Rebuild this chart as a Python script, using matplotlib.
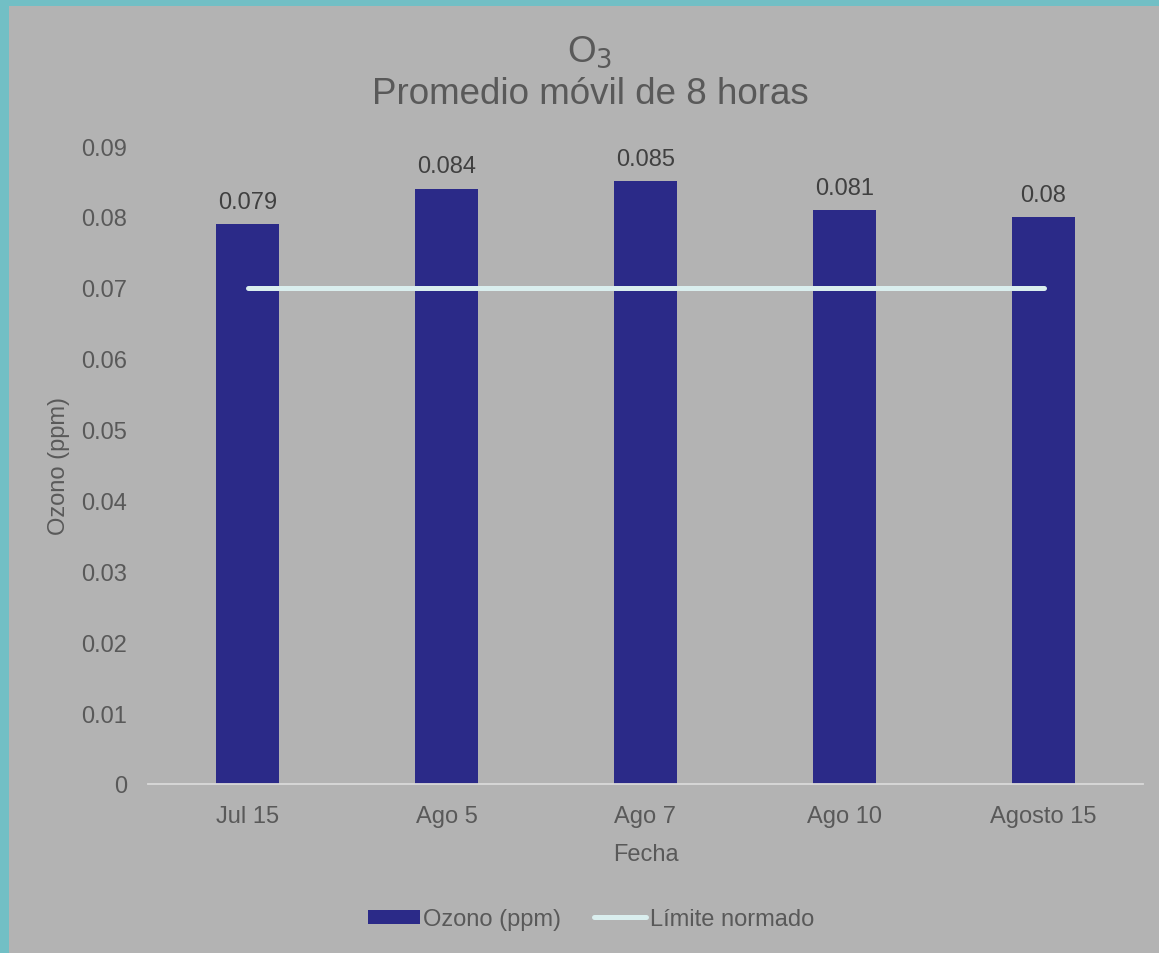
import matplotlib.pyplot as plt
from matplotlib.patches import Rectangle
from matplotlib.lines import Line2D

fechas = ["Jul 15", "Ago 5", "Ago 7", "Ago 10", "Agosto 15"]
ozono = [0.079, 0.084, 0.085, 0.081, 0.08]
limite = [0.07, 0.07, 0.07, 0.07, 0.07]
etiquetas = ["0.079", "0.084", "0.085", "0.081", "0.08"]
y_ticks = [0, 0.01, 0.02, 0.03, 0.04, 0.05, 0.06, 0.07, 0.08, 0.09]
y_ticklabels = ["0", "0.01", "0.02", "0.03", "0.04", "0.05", "0.06", "0.07", "0.08", "0.09"]

plt.rcParams["font.family"] = ["Liberation Sans", "DejaVu Sans"]

W, H = 1159, 954
bg = "#b3b3b3"
teal = "#72bfc5"
text_col = "#595959"
bar_col = "#2b2a88"
line_col = "#daeeee"
fs = 17

fig = plt.figure(figsize=(W / 100, H / 100), dpi=100)
fig.patch.set_facecolor(bg)
# teal frame on the top and left edges
fig.patches.append(Rectangle((0, 0), 9 / W, 1, transform=fig.transFigure,
                             facecolor=teal, edgecolor="none"))
fig.patches.append(Rectangle((0, (H - 7) / H), 1, 7 / H, transform=fig.transFigure,
                             facecolor=teal, edgecolor="none"))

ax = fig.add_axes([148 / W, 169 / H, (1143 - 148) / W, (785 - 147) / H])
ax.set_facecolor("none")

x = list(range(len(fechas)))
ax.bar(x, ozono, width=0.32, color=bar_col, label="Ozono (ppm)", zorder=2)
ax.plot(x, limite, color=line_col, lw=3.6, solid_capstyle="round",
        label="Límite normado", zorder=3)

for xi, v, lab in zip(x, ozono, etiquetas):
    ax.annotate(lab, (xi, v), xytext=(0, 8), textcoords="offset points",
                ha="center", va="bottom", fontsize=fs, color="#404040")

ax.set_xlim(-0.5, len(fechas) - 0.5)
ax.set_ylim(0, 0.09)
ax.set_yticks(y_ticks)
ax.set_yticklabels(y_ticklabels)
ax.set_xticks(x)
ax.set_xticklabels(fechas)
ax.tick_params(axis="both", length=0, labelsize=fs, colors=text_col)
ax.tick_params(axis="y", pad=15)
ax.tick_params(axis="x", pad=15)

for side in ["top", "right", "left"]:
    ax.spines[side].set_visible(False)
ax.spines["bottom"].set_color("#d9d9d9")
ax.spines["bottom"].set_linewidth(1.3)

ax.set_xlabel("Fecha", fontsize=fs, color=text_col, labelpad=12)
ax.set_ylabel("Ozono (ppm)", fontsize=fs, color=text_col, labelpad=8)

fig.text(590 / W, 1 - 62 / H, "O$_3$", ha="center", va="baseline",
         fontsize=26.5, color=text_col)
fig.text(590 / W, 1 - 104 / H, "Promedio móvil de 8 horas", ha="center",
         va="baseline", fontsize=26.5, color=text_col)

handles = [Rectangle((0, 0), 1, 1, facecolor=bar_col),
           Line2D([0], [0], color=line_col, lw=3.6, solid_capstyle="round")]
fig.legend(handles, ["Ozono (ppm)", "Límite normado"], loc="center",
           bbox_to_anchor=(591 / W, 1 - 920 / H), ncol=2, frameon=False,
           fontsize=fs, labelcolor=text_col, handlelength=2.2,
           handleheight=0.55, handletextpad=0.15, columnspacing=1.4)

fig.savefig("out.png", dpi=100, facecolor=fig.get_facecolor())
